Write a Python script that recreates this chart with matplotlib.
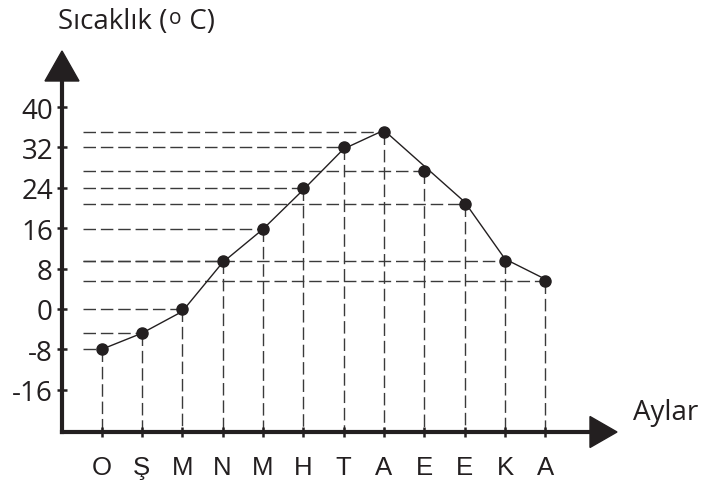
import matplotlib
matplotlib.use('Agg')
import matplotlib.pyplot as plt
from matplotlib.patches import Polygon
from matplotlib.transforms import offset_copy

# ---- data ----
months = ['O', 'Ş', 'M', 'N', 'M', 'H', 'T', 'A', 'E', 'E', 'K', 'A']
temps = [-8, -4.8, 0, 9.6, 15.8, 24, 32, 35, 27.4, 20.7, 9.5, 5.6]
line_months = [0, 1, 2, 3, 4, 5, 6, 7, 9, 10, 11]
line_temps = [-8, -4.8, -0.5, 9.2, 15.8, 23.6, 31.7, 35.4, 21.2, 9.9, 5.9]
yticks = [40, 32, 24, 16, 8, 0, -8, -16]
ytick_labels = ['40', '32', '24', '16', '8', '0', '-8', '-16']
y_title = ['Sıcaklık (', 'o', ' C)']
x_title = 'Aylar'

INK = '#231f20'
GUIDE = '#3a3a3a'
MYRIAD = ['Open Sans', 'DejaVu Sans']
ARIAL = ['Liberation Sans', 'DejaVu Sans']

W, H = 701, 485
fig = plt.figure(figsize=(W / 100, H / 100), dpi=100)
ax = fig.add_axes([0, 0, 1, 1])

# layout: month step and degree scale
x0_px, dx_px = 101.5, 40.35
y0_px, dy_px = 310.0, 5.05
ax.set_xlim(-x0_px / dx_px, (W - x0_px) / dx_px)
ax.set_ylim((y0_px - H) / dy_px, y0_px / dy_px)

yaxis_x = (62 - x0_px) / dx_px
xaxis_y = (y0_px - 433) / dy_px
guide_start = (83 - x0_px) / dx_px

# guides
idx = list(range(len(months)))
for i, t in zip(idx, temps):
    ax.plot([guide_start, i], [t, t], color=GUIDE, lw=1.0,
            dashes=(9, 3.5), zorder=1)
    ax.plot([i, i], [t, xaxis_y], color=GUIDE, lw=1.0,
            dashes=(9, 3.5), zorder=1)

# line and points
ax.plot(line_months, line_temps, color=INK, lw=1.0, zorder=3)
ax.plot(idx, temps, 'o', color=INK, ms=8, zorder=4)

# axes lines
for s in ['top', 'right']:
    ax.spines[s].set_visible(False)
ax.spines['left'].set_position(('data', yaxis_x))
ax.spines['bottom'].set_position(('data', xaxis_y))
ax.spines['left'].set_bounds(xaxis_y, (y0_px - 80) / dy_px)
ax.spines['bottom'].set_bounds(yaxis_x, (592 - x0_px) / dx_px)
for s in ['left', 'bottom']:
    ax.spines[s].set_linewidth(3)
    ax.spines[s].set_color(INK)
    ax.spines[s].set_capstyle('projecting')

# arrow heads
up = Polygon([[yaxis_x - 17 / dx_px, (y0_px - 82) / dy_px],
              [yaxis_x + 17 / dx_px, (y0_px - 82) / dy_px],
              [yaxis_x, (y0_px - 52) / dy_px]], closed=True,
             color=INK, zorder=5, clip_on=False)
right = Polygon([[(590 - x0_px) / dx_px, xaxis_y + 15.5 / dy_px],
                 [(590 - x0_px) / dx_px, xaxis_y - 15.5 / dy_px],
                 [(617 - x0_px) / dx_px, xaxis_y]], closed=True,
                color=INK, zorder=5, clip_on=False)
ax.add_patch(up)
ax.add_patch(right)

ax.set_yticks(yticks)
ax.set_yticklabels(ytick_labels, fontfamily=MYRIAD, fontsize=20, color=INK)
ax.set_xticks(idx)
ax.set_xticklabels(months, fontfamily=ARIAL, fontsize=18.5, color=INK)
ax.tick_params(axis='y', direction='inout', length=7, width=1.8, pad=3,
               color=INK)
ax.tick_params(axis='x', direction='inout', length=7, width=1.8, pad=13,
               color=INK)

# title built from pieces so the degree "o" sits slightly raised
fig.canvas.draw()
renderer = fig.canvas.get_renderer()
t1 = fig.text(58 / W, 1 - 29 / H, y_title[0], fontfamily=MYRIAD,
              fontsize=20, color=INK, ha='left', va='baseline')
bb = t1.get_window_extent(renderer)
t2 = fig.text(0, 0, y_title[1], fontfamily=MYRIAD, fontsize=15, color=INK,
              ha='left', va='baseline',
              transform=offset_copy(fig.transFigure, fig=fig, x=bb.x1 + 2,
                                    y=(H - 29) + 5, units='dots'))
bb2 = t2.get_window_extent(renderer)
fig.text(0, 0, y_title[2], fontfamily=MYRIAD, fontsize=20, color=INK,
         ha='left', va='baseline',
         transform=offset_copy(fig.transFigure, fig=fig, x=bb2.x1,
                               y=H - 29, units='dots'))

fig.text(633 / W, 1 - 413 / H, x_title, fontfamily=MYRIAD, fontsize=20,
         color=INK, ha='left', va='center')

fig.savefig('out.png', dpi=100)
